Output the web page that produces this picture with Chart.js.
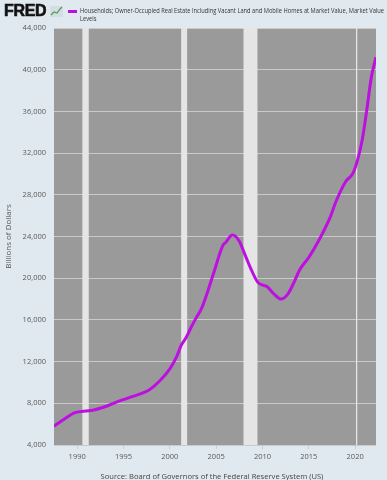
<!DOCTYPE html>
<html>
<head>
<meta charset="utf-8">
<script src="https://cdn.jsdelivr.net/npm/chart.js@4.4.1/dist/chart.umd.min.js"></script>
<style>
    html, body {
        margin: 0;
        padding: 0;
        background: #e1e9f0;
        font-family: "Open Sans", "DejaVu Sans", sans-serif;
    }
    #wrap {
        position: relative;
        width: 387px;
        height: 480px;
    }
    #chart {
        position: absolute;
        left: 0;
        top: 0;
    }
    .logo {
        position: absolute;
        left: 4px;
        top: 3px;
        font-family: "Liberation Sans", Arial, sans-serif;
        font-weight: bold;
        font-size: 16px;
        line-height: 16px;
        letter-spacing: -0.3px;
        color: #111;
        -webkit-text-stroke: 0.6px #111;
    }
    .logo-icon {
        position: absolute;
        left: 50px;
        top: 6px;
    }
    .legend-key {
        position: absolute;
        left: 68px;
        top: 10px;
        width: 9px;
        height: 3px;
        background: #bd10e0;
    }
    .legend-text {
        position: absolute;
        left: 80px;
        top: 7px;
        font-size: 6.6px;
        line-height: 8px;
        color: #333;
        white-space: nowrap;
        transform-origin: 0 0;
    }
    .source {
        position: absolute;
        left: 0;
        width: 424px;
        top: 471px;
        text-align: center;
        font-size: 7.6px;
        color: #444;
    }
</style>
</head>
<body>
<div id="wrap">
    <canvas id="chart" width="387" height="480"></canvas>
    <div class="logo">FRED</div>
    <svg class="logo-icon" width="13" height="11" viewBox="0 0 13 11"><rect x="0" y="0" width="13" height="11" fill="#d3dde6"/><polyline points="1,9 4,6 7,7 10,3 12,1" fill="none" stroke="#5a9a4a" stroke-width="1.2"/></svg>
    <div class="legend-key"></div>
    <div class="legend-text" id="legendText">Households; Owner-Occupied Real Estate Including Vacant Land and Mobile Homes at Market Value, Market Value<br>Levels</div>
    <div class="source">Source: Board of Governors of the Federal Reserve System (US)</div>
</div>
<script>
(function () {
    var years = [
        1987.5, 1988.5, 1989.75, 1990.5, 1991.5, 1993.0, 1994.5, 1996.0,
        1997.75, 1999.0, 2000.0, 2000.75, 2001.25, 2001.75, 2002.25, 2002.75,
        2003.5, 2004.75, 2005.75, 2006.0, 2006.75, 2007.5, 2008.0, 2008.75,
        2009.5, 2010.5, 2011.25, 2012.0, 2012.75, 2013.5, 2014.0, 2015.0,
        2016.0, 2017.25, 2018.0, 2019.0, 2019.75, 2020.25, 2020.75, 2021.25,
        2021.75, 2022.25
    ];
    var values = [
        5800, 6420, 7100, 7220, 7300, 7670, 8200, 8660,
        9280, 10240, 11300, 12500, 13600, 14300, 15200, 16050,
        17250, 20550, 23200, 23400, 24140, 23550, 22500, 20900,
        19600, 19180, 18480, 18000, 18500, 19800, 20790, 22000,
        23500, 25740, 27500, 29300, 30050, 31300, 33200, 36100,
        39300, 41200
    ];
    var recessionStarts = [1990.56, 2001.22, 2007.95, 2020.09];
    var recessionEnds = [1991.25, 2001.87, 2009.46, 2020.23];
    var xTicks = [1990, 1995, 2000, 2005, 2010, 2015, 2020];

    // squeeze the legend text to the width FRED gives it
    var legendText = document.getElementById('legendText');
    var legendWidth = legendText.getBoundingClientRect().width;
    if (legendWidth > 304) {
        legendText.style.transform = 'scaleX(' + (304 / legendWidth) + ')';
    }

    var points = years.map(function (year, i) {
        return { x: year, y: values[i] };
    });

    var plotBackground = {
        id: 'plotBackground',
        beforeDraw: function (chart) {
            var area = chart.chartArea;
            var ctx = chart.ctx;
            ctx.save();
            ctx.fillStyle = '#9a9a9a';
            ctx.fillRect(area.left, area.top, area.right - area.left, area.bottom - area.top);
            ctx.restore();
        },
        beforeDatasetsDraw: function (chart) {
            var area = chart.chartArea;
            var xScale = chart.scales.x;
            var ctx = chart.ctx;
            ctx.save();
            ctx.fillStyle = '#e5e5e5';
            recessionStarts.forEach(function (start, i) {
                var x0 = xScale.getPixelForValue(start);
                var x1 = xScale.getPixelForValue(recessionEnds[i]);
                ctx.fillRect(x0, area.top, Math.max(1, x1 - x0), area.bottom - area.top);
            });
            ctx.restore();
        }
    };

    new Chart(document.getElementById('chart'), {
        type: 'line',
        data: {
            datasets: [
                {
                    data: points,
                    borderColor: '#bd10e0',
                    borderWidth: 3,
                    pointRadius: 0,
                    cubicInterpolationMode: 'monotone',
                    fill: false
                }
            ]
        },
        options: {
            responsive: false,
            animation: false,
            layout: {
                padding: { left: 0, top: 28, right: 11, bottom: 0 }
            },
            plugins: {
                legend: { display: false },
                tooltip: { enabled: false }
            },
            scales: {
                x: {
                    type: 'linear',
                    min: 1987.5,
                    max: 2022.25,
                    afterBuildTicks: function (scale) {
                        scale.ticks = xTicks.map(function (v) {
                            return { value: v };
                        });
                    },
                    afterFit: function (scale) {
                        scale.height = 35;
                    },
                    border: { display: false },
                    grid: {
                        drawOnChartArea: false,
                        color: '#c5d0da',
                        tickLength: 4
                    },
                    ticks: {
                        color: '#595959',
                        font: { size: 7.5, family: 'Open Sans' },
                        padding: 3,
                        maxRotation: 0,
                        callback: function (value) {
                            return String(value);
                        }
                    }
                },
                y: {
                    min: 4000,
                    max: 44000,
                    afterFit: function (scale) {
                        scale.width = 54;
                    },
                    border: { display: false },
                    grid: {
                        color: '#cacaca',
                        lineWidth: 1,
                        drawTicks: false
                    },
                    ticks: {
                        stepSize: 4000,
                        color: '#595959',
                        font: { size: 7.5, family: 'Open Sans' },
                        padding: 8,
                        callback: function (value) {
                            return value.toLocaleString('en-US');
                        }
                    },
                    title: {
                        display: true,
                        text: 'Billions of Dollars',
                        color: '#595959',
                        font: { size: 8, family: 'Open Sans' },
                        padding: { top: 4, bottom: 0 }
                    }
                }
            }
        },
        plugins: [plotBackground]
    });
})();
</script>
</body>
</html>
